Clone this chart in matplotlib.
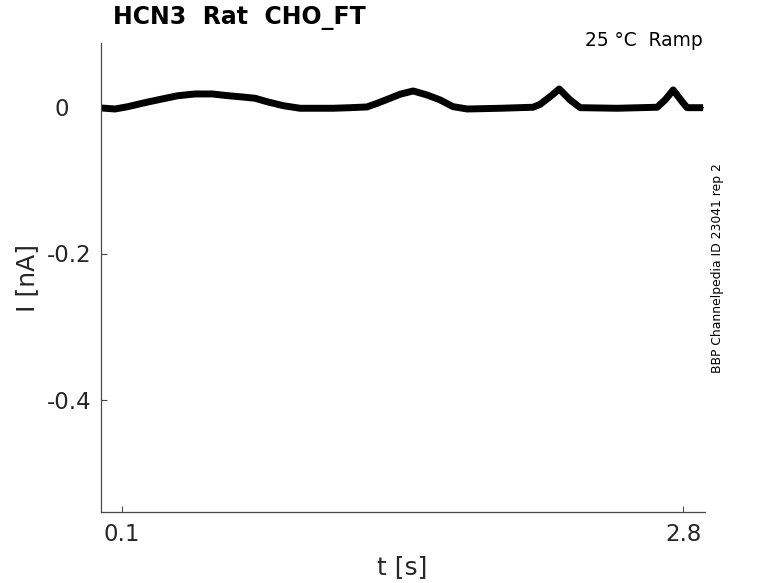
import matplotlib
matplotlib.use("Agg")
import matplotlib.pyplot as plt

# Trace (center of noisy band)
t_s = [0.000, 0.066, 0.128, 0.210, 0.292, 0.369, 0.451, 0.534, 0.610, 0.692,
       0.740, 0.797, 0.874, 0.956, 1.038, 1.115, 1.197, 1.278, 1.327, 1.389,
       1.437, 1.500, 1.567, 1.630, 1.692, 1.760, 1.919, 2.077, 2.111, 2.159,
       2.203, 2.255, 2.304, 2.482, 2.674, 2.712, 2.751, 2.794, 2.818, 2.895]
i_nA = [0.0000, -0.0014, 0.0018, 0.0073, 0.0123, 0.0168, 0.0192, 0.0192, 0.0168, 0.0147,
        0.0133, 0.0086, 0.0032, -0.0004, -0.0004, -0.0004, 0.0004, 0.0014, 0.0064, 0.0133,
        0.0188, 0.0233, 0.0178, 0.0110, 0.0018, -0.0014, -0.0004, 0.0010, 0.0050, 0.0155,
        0.0260, 0.0110, 0.0004, -0.0004, 0.0010, 0.0110, 0.0247, 0.0086, 0.0004, 0.0004]

xticks = [0.1, 2.8]
xtick_labels = ["0.1", "2.8"]
yticks = [-0.4, -0.2, 0.0]
ytick_labels = ["-0.4", "-0.2", "0"]

title = "HCN3  Rat  CHO_FT"
cond = "25 °C  Ramp"
side = "BBP Channelpedia ID 23041 rep 2"

plt.rcParams['font.family'] = ['DejaVu Sans']
plt.rcParams['axes.unicode_minus'] = False

W, H = 778, 583
fig = plt.figure(figsize=(W / 100, H / 100), dpi=100)
ax = fig.add_axes([101.3 / W, 1 - 512 / H, (705 - 101.3) / W, (512 - 43) / H])

ax.plot(t_s, i_nA, color='black', lw=5.0, solid_joinstyle='round', solid_capstyle='butt')
ax.plot(t_s, i_nA, color='black', lw=1.0)

ax.set_xlim(0.0, 2.904)
ax.set_ylim(-0.5534, 0.089)

for s in ['top', 'right']:
    ax.spines[s].set_visible(False)
for s in ['left', 'bottom']:
    ax.spines[s].set_color('#4a4a4a')
    ax.spines[s].set_linewidth(0.9)

tc = '#262626'
ax.set_xticks(xticks)
ax.set_xticklabels(xtick_labels)
ax.tick_params(axis='x', direction='in', length=4.5, width=0.8, color='#4a4a4a',
               labelsize=16.5, labelcolor=tc, pad=8.0)
ax.set_yticks(yticks)
ax.set_yticklabels([])
ax.tick_params(axis='y', direction='in', length=4.3, width=0.8, color='#4a4a4a')

for v, lab in zip(yticks, ytick_labels):
    dx = -32 if lab == "0" else -9.5
    ax.annotate(lab, xy=(0, v), xycoords=('axes fraction', 'data'),
                xytext=(dx, -2), textcoords='offset pixels',
                ha='right', va='center', fontsize=16.5, color=tc)

fig.text(402 / W, 1 - 567 / H, "t [s]", ha='center', va='center', fontsize=18, color=tc)
fig.text(27.5 / W, 1 - 277.5 / H, "I [nA]", ha='center', va='center', rotation=90,
         fontsize=18, color=tc)
fig.text(113 / W, 1 - 18 / H, title, ha='left', va='center', fontsize=17,
         fontweight='bold', color='black')
fig.text(703 / W, 1 - 41 / H, cond, ha='right', va='center', fontsize=13.4, color='black')
fig.text(717.5 / W, 1 - 268.5 / H, side, ha='center', va='center', rotation=90,
         fontsize=8.9, color='black')

fig.savefig("out.png", dpi=100)
